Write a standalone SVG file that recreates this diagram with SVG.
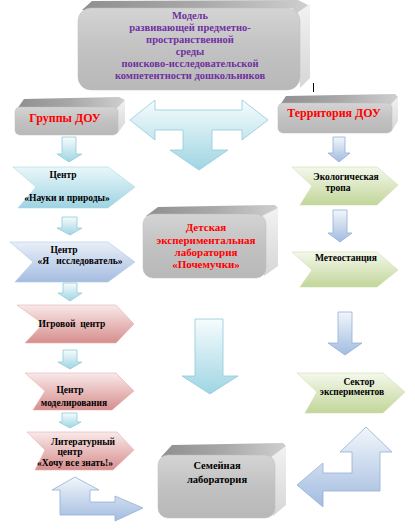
<svg xmlns="http://www.w3.org/2000/svg" width="415" height="531" viewBox="0 0 415 531">
<defs>
<linearGradient id="gFace" x1="0" y1="0" x2="0" y2="1"><stop offset="0" stop-color="#d4d4d4"/><stop offset="0.5" stop-color="#c2c2c2"/><stop offset="1" stop-color="#b8b8b8"/></linearGradient>
<linearGradient id="gTop" x1="0" y1="0" x2="1" y2="0"><stop offset="0" stop-color="#8f8f8f"/><stop offset="0.5" stop-color="#a8a8a8"/><stop offset="1" stop-color="#cfcfcf"/></linearGradient>
<linearGradient id="gSide" x1="0" y1="0" x2="0" y2="1"><stop offset="0" stop-color="#f2f2f2"/><stop offset="1" stop-color="#d6d6d6"/></linearGradient>
<linearGradient id="gCyan" x1="0" y1="0" x2="0" y2="1"><stop offset="0" stop-color="#f6fcfd"/><stop offset="1" stop-color="#9fd5e3"/></linearGradient>
<linearGradient id="gBlue" x1="0" y1="0" x2="0" y2="1"><stop offset="0" stop-color="#f2f6fb"/><stop offset="1" stop-color="#a2bce0"/></linearGradient>
<linearGradient id="cCyan" x1="0" y1="0" x2="0" y2="1"><stop offset="0" stop-color="#eaf7fa"/><stop offset="1" stop-color="#9ed3e2"/></linearGradient>
<linearGradient id="cBlue" x1="0" y1="0" x2="0" y2="1"><stop offset="0" stop-color="#e9eff8"/><stop offset="1" stop-color="#a5bde0"/></linearGradient>
<linearGradient id="cRed" x1="0" y1="0" x2="0" y2="1"><stop offset="0" stop-color="#f9e9e9"/><stop offset="1" stop-color="#d68e8d"/></linearGradient>
<linearGradient id="cGreen" x1="0" y1="0" x2="0" y2="1"><stop offset="0" stop-color="#f4f8ec"/><stop offset="1" stop-color="#c2d699"/></linearGradient>
</defs>
<style>
text{font-family:"Liberation Serif","Times New Roman",serif;font-weight:bold;text-anchor:middle}
.face{fill:url(#gFace);stroke:#bdbdbd;stroke-width:0.5}
.top{fill:url(#gTop)}
.side{fill:url(#gSide)}
.t-purple{fill:#7030a0;font-size:10.5px}
.t-red{fill:#ff0000;font-size:12px}
.t-red2{fill:#ff0000;font-size:11px}
.t-blk{fill:#000;font-size:9.5px}
.t-blk2{fill:#000;font-size:10.5px}
.aCyan{fill:url(#gCyan);stroke:#8fcadb;stroke-width:0.8}
.aBlue{fill:url(#gBlue);stroke:#93b0d6;stroke-width:0.8}
.chCyan{fill:url(#cCyan);stroke:#a9d9e6;stroke-width:0.6}
.chBlue{fill:url(#cBlue);stroke:#b3c7e5;stroke-width:0.6}
.chRed{fill:url(#cRed);stroke:#e3b2b1;stroke-width:0.6}
.chGreen{fill:url(#cGreen);stroke:#cddfab;stroke-width:0.6}
</style>

<g id="model">
<polygon class="top" points="82,10 92,1 298,0 310,6 300,16 292,8"/>
<polygon class="side" points="298,12 310,4 310,78 300,88"/>
<rect class="face" x="78" y="8" width="222" height="82" rx="13"/>
<text class="t-purple" x="190" y="19">Модель</text>
<text class="t-purple" x="190" y="31">развивающей предметно-</text>
<text class="t-purple" x="190" y="43">пространственной</text>
<text class="t-purple" x="190" y="55">среды</text>
<text class="t-purple" x="190" y="67">поисково-исследовательской</text>
<text class="t-purple" x="190" y="79">компетентности дошкольников</text>
</g>
<line x1="313.5" y1="83" x2="313.5" y2="92" stroke="#000" stroke-width="1"/>

<g id="groups">
<polygon class="top" points="17,109 24,99 119,97 125,100 118,110"/>
<polygon class="side" points="116,109 125,100 125,123 117,134"/>
<rect class="face" x="15" y="107" width="103" height="28" rx="5"/>
<text class="t-red" x="65" y="122">Группы ДОУ</text>
</g>

<g id="territory">
<polygon class="top" points="280,105 286,96 395,94 398,97 392,106"/>
<polygon class="side" points="390,105 398,97 398,121 391,132"/>
<rect class="face" x="278" y="103" width="114" height="30" rx="5"/>
<text class="t-red" x="334" y="117">Территория ДОУ</text>
</g>

<g id="lab">
<polygon class="top" points="146,216 158,207 275,205 278,208 266,217"/>
<polygon class="side" points="262,216 278,208 278,266 264,276"/>
<rect class="face" x="143" y="214" width="123" height="64" rx="10"/>
<text class="t-red2" x="206" y="231">Детская</text>
<text class="t-red2" x="206" y="244">экспериментальная</text>
<text class="t-red2" x="206" y="256">лаборатория</text>
<text class="t-red2" x="206" y="268">«Почемучки»</text>
</g>

<g id="family">
<polygon class="top" points="161,457 172,445 283,443 286,446 275,458"/>
<polygon class="side" points="271,457 286,446 286,505 273,516"/>
<rect class="face" x="158" y="455" width="117" height="63" rx="10"/>
<text class="t-blk2" x="217" y="469">Семейная</text>
<text class="t-blk2" x="217" y="483">лаборатория</text>
</g>

<g id="c-nauka">
<polygon class="chCyan" points="13,167 108,167 135,187 108,208 18,208 36,187"/>
<text class="t-blk" x="63" y="178">Центр</text>
<text class="t-blk" x="67" y="201">«Науки и природы»</text>
</g>
<g id="c-issled">
<polygon class="chBlue" points="10,242 108,242 135,262 108,282 15,282 33,262"/>
<text class="t-blk" x="64" y="253">Центр</text>
<text class="t-blk" x="80" y="264" xml:space="preserve">«Я   исследователь»</text>
</g>
<g id="c-igra">
<polygon class="chRed" points="17,305 116,305 134,324 116,343 25,343 43,324"/>
<text class="t-blk" x="72" y="327" xml:space="preserve">Игровой  центр</text>
</g>
<g id="c-model">
<polygon class="chRed" points="25,373 116,373 134,391 112,410 33,410 45,391"/>
<text class="t-blk" x="70" y="393">Центр</text>
<text class="t-blk" x="74" y="406">моделирования</text>
</g>
<g id="c-lit">
<polygon class="chRed" points="27,432 117,432 134,450 113,470 35,470 45,450"/>
<text class="t-blk" x="83" y="445">Литературный</text>
<text class="t-blk" x="70" y="455">центр</text>
<text class="t-blk" x="75" y="466">«Хочу все знать!»</text>
</g>
<g id="c-eco">
<polygon class="chGreen" points="292,167 377,167 398,185 377,205 300,205 312,186"/>
<text class="t-blk" x="346" y="180">Экологическая</text>
<text class="t-blk" x="338" y="191">тропа</text>
</g>
<g id="c-meteo">
<polygon class="chGreen" points="292,252 377,252 398,270 377,287 300,287 312,270"/>
<text class="t-blk" x="346" y="261">Метеостанция</text>
</g>
<g id="c-sector">
<polygon class="chGreen" points="297,373 383,373 405,392 383,413 305,413 317,392"/>
<text class="t-blk" x="359" y="385">Сектор</text>
<text class="t-blk" x="352" y="395">экспериментов</text>
</g>

<g id="connectors">
<path class="aCyan" d="M130,120 L155,100 L155,110 L242,110 L242,100 L268,120 L242,140 L242,130 L212,130 L212,150 L228,150 L199,170 L170,150 L183,150 L183,130 L155,130 L155,140 Z"/>
<path class="aCyan" d="M195,319 L223,319 L223,376 L238,376 L210,394 L182,376 L195,376 Z"/>
<path class="aCyan" d="M62,137 L76,137 L76,154 L82,154 L69,162 L57,154 L62,154 Z"/>
<path class="aCyan" d="M62,217 L77,217 L77,228 L82,228 L70,235 L57,228 L62,228 Z"/>
<path class="aCyan" d="M63,283 L77,283 L77,293 L82,293 L70,301 L58,293 L63,293 Z"/>
<path class="aCyan" d="M63,350 L77,350 L77,362 L82,362 L70,369 L58,362 L63,362 Z"/>
<path class="aCyan" d="M62,413 L77,413 L77,422 L81,422 L70,428 L59,422 L62,422 Z"/>
<path class="aBlue" d="M333,137 L345,137 L345,153 L350,153 L339,162 L328,153 L333,153 Z"/>
<path class="aBlue" d="M333,210 L347,210 L347,233 L352,233 L340,242 L328,233 L333,233 Z"/>
<path class="aBlue" d="M338,312 L352,312 L352,343 L362,343 L345,355 L328,343 L338,343 Z"/>
<path class="aBlue" d="M75,477 L99,490 L90,490 L90,502 L115,502 L115,496 L143,508 L115,521 L115,515 L60,515 L60,490 L52,490 Z"/>
<path class="aBlue" d="M366,427 L392,452 L380,452 L380,491 L323,491 L323,507 L297,485 L323,463 L323,473 L352,473 L352,452 L340,452 Z"/>
</g>
</svg>
